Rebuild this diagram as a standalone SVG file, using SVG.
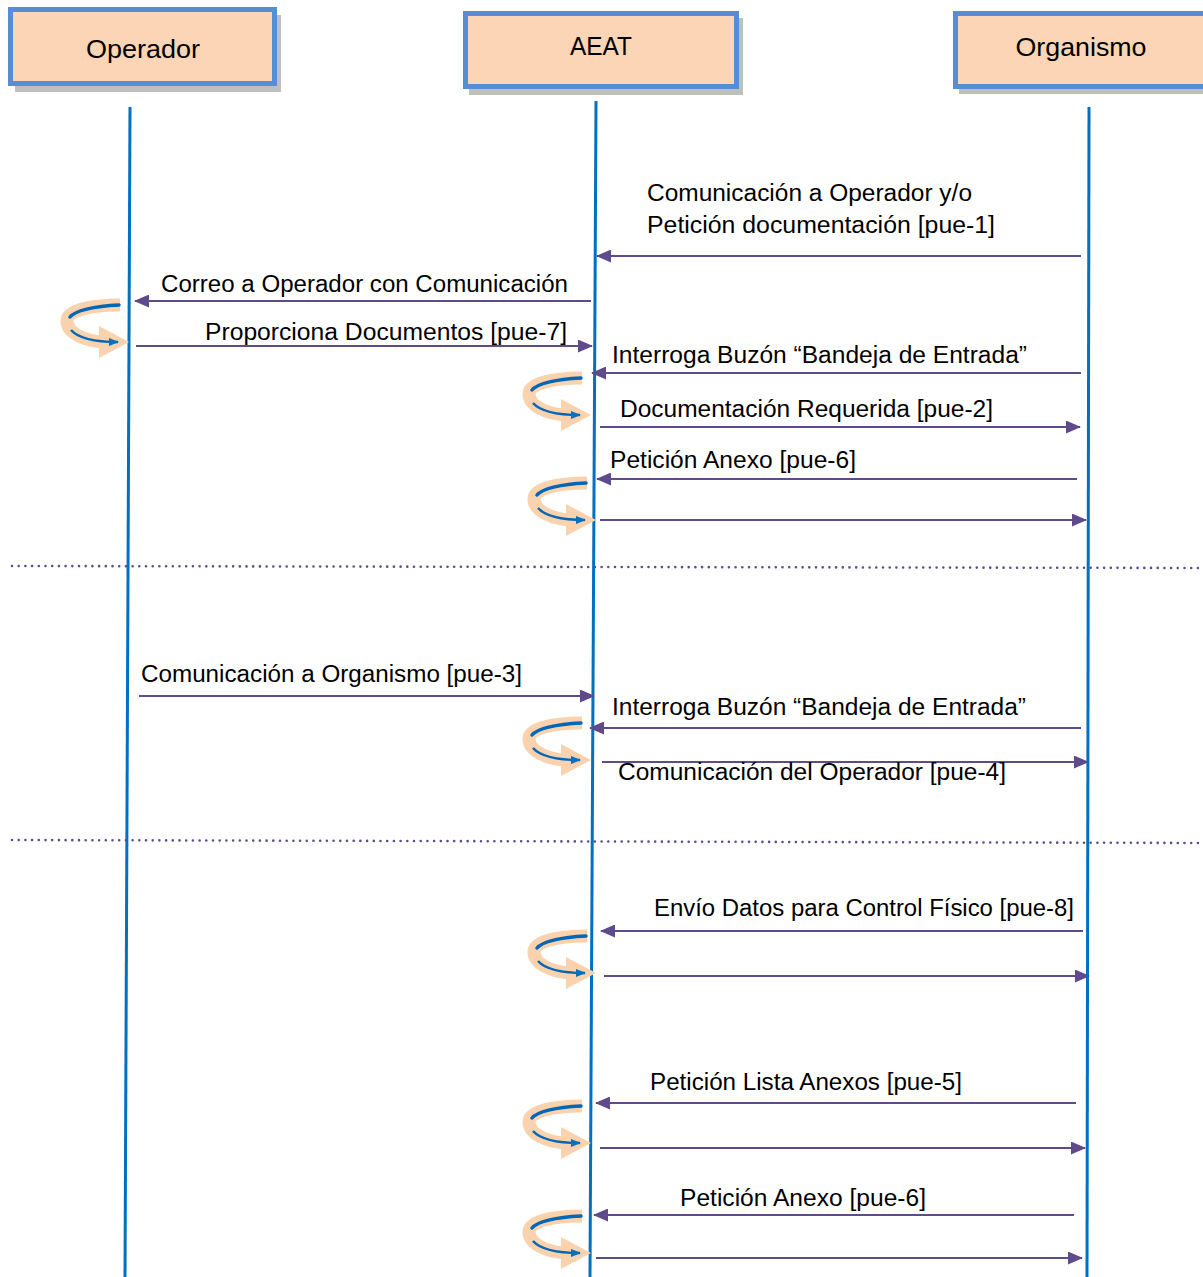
<svg xmlns="http://www.w3.org/2000/svg" width="1203" height="1277" viewBox="0 0 1203 1277">
<style>
.hdr{fill:#FBD5B5;stroke:#558ED5;stroke-width:5}
.shd{fill:#BFBFBF}
.ht{font-family:"Liberation Sans",Arial,sans-serif;font-size:26px;fill:#000;text-anchor:middle}
.life{stroke:#0070C0;stroke-width:3;fill:none}
.msg{stroke:#5F4B8B;stroke-width:2;fill:none}
.lbl{font-family:"Liberation Sans",Arial,sans-serif;font-size:23px;fill:#000}
.dot{stroke:#5F4B8B;stroke-width:2.6;stroke-dasharray:0 6.7;stroke-linecap:round;fill:none}
</style>
<defs>
<marker id="ah" viewBox="0 0 15 13" refX="14" refY="6.5" markerWidth="15" markerHeight="13" markerUnits="userSpaceOnUse" orient="auto">
<path d="M0,0 L15,6.5 L0,13 Z" fill="#5F4B8B"/>
</marker>
<marker id="bh" viewBox="0 0 10 8" refX="9" refY="4" markerWidth="10" markerHeight="8" markerUnits="userSpaceOnUse" orient="auto">
<path d="M0,0 L10,4 L0,8 Z" fill="#0070C0"/>
</marker>
<g id="curl">
<path d="M57,8 C25,8 4,14 4,24 C4,36 22,44 40,45" fill="none" stroke="#FAD3AE" stroke-width="13"/>
<path d="M36,29 L66,45 L36,61 Z" fill="#FAD3AE"/>
<path d="M56,8 C30,9 12,14 7,20" fill="none" stroke="#0067B8" stroke-width="3.5" stroke-linecap="round"/>
<path d="M8,33 C15,41 33,45 55,45" fill="none" stroke="#0067B8" stroke-width="2.5" marker-end="url(#bh)"/>
</g>
</defs>
<rect width="1203" height="1277" fill="#fff"/>

<g id="node-operador">
<rect class="shd" x="15" y="15" width="266" height="77"/>
<rect class="hdr" x="10.5" y="9.5" width="264" height="74"/>
<text class="ht" x="143" y="58" textLength="114" lengthAdjust="spacingAndGlyphs">Operador</text>
</g>
<g id="node-aeat">
<rect class="shd" x="469" y="18" width="274" height="77"/>
<rect class="hdr" x="465.5" y="13.5" width="271" height="73"/>
<text class="ht" x="601" y="55" textLength="62" lengthAdjust="spacingAndGlyphs">AEAT</text>
</g>
<g id="node-organismo">
<rect class="shd" x="959" y="18" width="250" height="76"/>
<rect class="hdr" x="955.5" y="13.5" width="252" height="73"/>
<text class="ht" x="1081" y="56" textLength="131" lengthAdjust="spacingAndGlyphs">Organismo</text>
</g>

<g id="lifelines">
<line class="life" x1="130" y1="107" x2="125" y2="1277"/>
<line class="life" x1="596" y1="101" x2="590" y2="1277"/>
<line class="life" x1="1089" y1="107" x2="1087" y2="1277"/>
</g>

<g id="separators">
<path class="dot" d="M12,566 L1203,568"/>
<path class="dot" d="M12,840 L1203,843"/>
</g>

<g id="self-loops">
<use href="#curl" x="63" y="297"/>
<use href="#curl" x="525" y="370"/>
<use href="#curl" x="530" y="475"/>
<use href="#curl" x="525" y="715"/>
<use href="#curl" x="530" y="928"/>
<use href="#curl" x="525" y="1098"/>
<use href="#curl" x="525" y="1208"/>
</g>

<g id="connectors">
<line class="msg" x1="1081" y1="256" x2="597" y2="256" marker-end="url(#ah)"/>
<line class="msg" x1="591" y1="301" x2="135" y2="301" marker-end="url(#ah)"/>
<line class="msg" x1="136" y1="346" x2="592" y2="346" marker-end="url(#ah)"/>
<line class="msg" x1="1081" y1="373" x2="592" y2="373" marker-end="url(#ah)"/>
<line class="msg" x1="600" y1="427" x2="1080" y2="427" marker-end="url(#ah)"/>
<line class="msg" x1="1077" y1="479" x2="597" y2="479" marker-end="url(#ah)"/>
<line class="msg" x1="600" y1="520" x2="1086" y2="520" marker-end="url(#ah)"/>
<line class="msg" x1="139" y1="696" x2="594" y2="696" marker-end="url(#ah)"/>
<line class="msg" x1="1081" y1="728" x2="590" y2="728" marker-end="url(#ah)"/>
<line class="msg" x1="602" y1="762" x2="1088" y2="762" marker-end="url(#ah)"/>
<line class="msg" x1="1083" y1="931" x2="601" y2="931" marker-end="url(#ah)"/>
<line class="msg" x1="604" y1="976" x2="1089" y2="976" marker-end="url(#ah)"/>
<line class="msg" x1="1076" y1="1103" x2="596" y2="1103" marker-end="url(#ah)"/>
<line class="msg" x1="600" y1="1148" x2="1085" y2="1148" marker-end="url(#ah)"/>
<line class="msg" x1="1074" y1="1215" x2="594" y2="1215" marker-end="url(#ah)"/>
<line class="msg" x1="596" y1="1258" x2="1082" y2="1258" marker-end="url(#ah)"/>
</g>

<g id="labels">
<text class="lbl" x="647" y="201" textLength="325" lengthAdjust="spacingAndGlyphs">Comunicación a Operador y/o</text>
<text class="lbl" x="647" y="233" textLength="348" lengthAdjust="spacingAndGlyphs">Petición documentación [pue-1]</text>
<text class="lbl" x="161" y="292" textLength="407" lengthAdjust="spacingAndGlyphs">Correo a Operador con Comunicación</text>
<text class="lbl" x="205" y="340" textLength="362" lengthAdjust="spacingAndGlyphs">Proporciona Documentos [pue-7]</text>
<text class="lbl" x="612" y="363" textLength="415" lengthAdjust="spacingAndGlyphs">Interroga Buzón “Bandeja de Entrada”</text>
<text class="lbl" x="620" y="417" textLength="373" lengthAdjust="spacingAndGlyphs">Documentación Requerida [pue-2]</text>
<text class="lbl" x="610" y="468" textLength="246" lengthAdjust="spacingAndGlyphs">Petición Anexo [pue-6]</text>
<text class="lbl" x="141" y="682" textLength="381" lengthAdjust="spacingAndGlyphs">Comunicación a Organismo [pue-3]</text>
<text class="lbl" x="612" y="715" textLength="414" lengthAdjust="spacingAndGlyphs">Interroga Buzón “Bandeja de Entrada”</text>
<text class="lbl" x="618" y="780" textLength="388" lengthAdjust="spacingAndGlyphs">Comunicación del Operador [pue-4]</text>
<text class="lbl" x="654" y="916" textLength="420" lengthAdjust="spacingAndGlyphs">Envío Datos para Control Físico [pue-8]</text>
<text class="lbl" x="650" y="1090" textLength="312" lengthAdjust="spacingAndGlyphs">Petición Lista Anexos [pue-5]</text>
<text class="lbl" x="680" y="1206" textLength="246" lengthAdjust="spacingAndGlyphs">Petición Anexo [pue-6]</text>
</g>
</svg>
